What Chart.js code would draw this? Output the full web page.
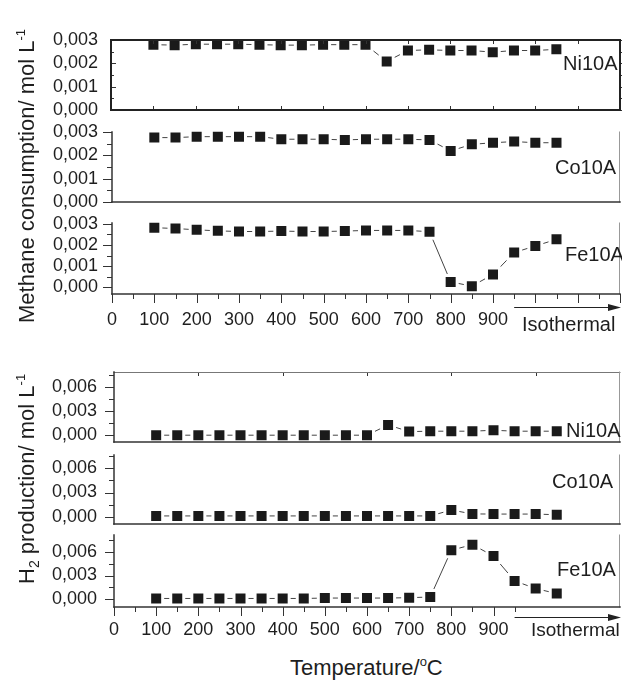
<!DOCTYPE html>
<html>
<head>
<meta charset="utf-8">
<script src="https://cdn.jsdelivr.net/npm/chart.js@4.4.0/dist/chart.umd.min.js"></script>
<style>
    html, body { margin: 0; padding: 0; background: #fff; }
    #page { position: relative; width: 622px; height: 681px; overflow: hidden;
            font-family: "Liberation Sans", Arial, sans-serif; color: #1e1e1e; }
    canvas { position: absolute; left: 0; }
    .lbl { position: absolute; z-index: 2; font-size: 20px; line-height: 20px; white-space: nowrap; }
    .ytitle { position: absolute; z-index: 2; font-size: 22px; line-height: 22px; white-space: nowrap;
              transform-origin: 0 0; transform: rotate(-90deg); }
    .xtitle { position: absolute; z-index: 2; font-size: 22px; line-height: 22px; white-space: nowrap; }
    .sup { position: relative; top: -9px; font-size: 13px; line-height: 0; }
    .sub { position: relative; top: 5px; font-size: 14px; line-height: 0; }
</style>
</head>
<body>
<div id="page">
    <div class="ytitle" style="left:16px; top:323px;">Methane consumption/ mol L<span class="sup">-1</span></div>
    <div class="ytitle" style="left:16px; top:584px;">H<span class="sub">2</span> production/ mol L<span class="sup">-1</span></div>
    <div class="xtitle" style="left:290px; top:657px;">Temperature/<span class="sup">o</span>C</div>
</div>

<script>
// Temperatures of the measured points (last ones are in the isothermal stage)
const temps = [100, 150, 200, 250, 300, 350, 400, 450, 500, 550, 600, 650, 700, 750, 800, 850, 900, 950, 1000, 1050];

// Methane consumption (mol/L)
const ch4Ni = [0.00280, 0.00278, 0.00282, 0.00282, 0.00282, 0.00280, 0.00278, 0.00278, 0.00280, 0.00280,
               0.00280, 0.00208, 0.00255, 0.00258, 0.00255, 0.00255, 0.00248, 0.00255, 0.00255, 0.00260];
const ch4Co = [0.00276, 0.00276, 0.00280, 0.00280, 0.00280, 0.00280, 0.00269, 0.00269, 0.00269, 0.00266,
               0.00269, 0.00269, 0.00269, 0.00266, 0.00219, 0.00247, 0.00254, 0.00259, 0.00254, 0.00254];
const ch4Fe = [0.00281, 0.00277, 0.00271, 0.00266, 0.00263, 0.00263, 0.00265, 0.00263, 0.00263, 0.00265,
               0.00268, 0.00268, 0.00268, 0.00262, 0.00026, 0.00006, 0.00061, 0.00164, 0.00195, 0.00226];

// H2 production (mol/L)
const h2Ni = [0, 0, 0, 0, 0, 0, 0, 0, 0, 0,
              0, 0.00128, 0.00045, 0.00050, 0.00050, 0.00050, 0.00062, 0.00050, 0.00050, 0.00050];
const h2Co = [0.0001, 0.0001, 0.0001, 0.0001, 0.0001, 0.0001, 0.0001, 0.0001, 0.0001, 0.0001,
              0.0001, 0.0001, 0.0001, 0.0001, 0.00083, 0.00035, 0.00033, 0.00033, 0.00033, 0.00025];
const h2Fe = [0.0001, 0.0001, 0.0001, 0.0001, 0.0001, 0.0001, 0.0001, 0.0001, 0.00015, 0.00015,
              0.00015, 0.00015, 0.00020, 0.00028, 0.00620, 0.00690, 0.00546, 0.00232, 0.00135, 0.00072];

// Tick labels
const xTickLabels = ['0', '100', '200', '300', '400', '500', '600', '700', '800', '900'];
const ch4TickLabels = ['0,000', '0,001', '0,002', '0,003'];
const h2TickLabels = ['0,000', '0,003', '0,006'];
const catalysts = ['Ni10A', 'Co10A', 'Fe10A'];

Chart.defaults.font.family = '"Liberation Sans", Arial, sans-serif';
Chart.defaults.color = '#1e1e1e';
Chart.defaults.animation = false;

const AXIS = '#333';
const LIGHT = '#999';
const PAGE_W = 622;
const PLOT_RIGHT = 620;
const EXTRA_W = 30;   // canvas is wider than the page so label padding never eats the plot

// Short tick marks (major + minor), placed with the chart's scales
const tickMarks = {
    id: 'tickMarks',
    afterDatasetsDraw(chart, args, opts) {
        const ctx = chart.ctx, a = chart.chartArea;
        ctx.save();
        ctx.strokeStyle = AXIS;
        ctx.lineWidth = 1;
        (opts.marks || []).forEach(m => {
            const scale = chart.scales[m.axis];
            const lo = m.from !== undefined ? m.from : scale.min;
            const hi = m.to !== undefined ? m.to : scale.max;
            const n0 = Math.ceil(lo / m.step - 1e-6), n1 = Math.floor(hi / m.step + 1e-6);
            for (let i = n0; i <= n1; i++) {
                const v = i * m.step;
                const r = v / m.major;
                const len = Math.abs(r - Math.round(r)) < 1e-6 ? m.majorLen : m.minorLen;
                if (!len) continue;
                const p = Math.round(scale.getPixelForValue(v)) + 0.5;
                ctx.beginPath();
                if (m.axis === 'y') {
                    const x0 = m.side === 'right' ? a.right : a.left;
                    ctx.moveTo(x0, p);
                    ctx.lineTo(x0 + m.dir * len, p);
                } else {
                    const y0 = m.side === 'top' ? a.top : a.bottom;
                    ctx.moveTo(p, y0);
                    ctx.lineTo(p, y0 + m.dir * len);
                }
                ctx.stroke();
            }
        });
        ctx.restore();
    }
};

// Axis / frame lines, drawn over the markers' white halo
const frame = {
    id: 'frame',
    afterDatasetsDraw(chart, args, opts) {
        const ctx = chart.ctx, a = chart.chartArea;
        ctx.save();
        (opts.lines || []).forEach(l => {
            ctx.strokeStyle = l.color;
            ctx.lineWidth = l.width;
            ctx.lineCap = 'square';
            ctx.beginPath();
            if (l.side === 'box') {
                ctx.rect(a.left, a.top, a.right - a.left, a.bottom - a.top);
            } else if (l.side === 'top') {
                ctx.moveTo(a.left, a.top + 0.5);
                ctx.lineTo(a.right, a.top + 0.5);
            } else if (l.side === 'right') {
                ctx.moveTo(a.right - 0.5, a.top);
                ctx.lineTo(a.right - 0.5, a.bottom);
            } else if (l.side === 'left') {
                ctx.moveTo(a.left, a.top);
                ctx.lineTo(a.left, a.bottom);
            } else if (l.side === 'bottom') {
                ctx.moveTo(a.left, a.bottom);
                ctx.lineTo(a.right, a.bottom);
            }
            ctx.stroke();
        });
        ctx.restore();
    }
};

// "Isothermal" arrow under the temperature axis
const isoArrow = {
    id: 'isoArrow',
    afterDraw(chart, args, opts) {
        if (opts.from === undefined) return;
        const ctx = chart.ctx;
        const x0 = chart.scales.x.getPixelForValue(opts.from);
        const x1 = PAGE_W - 1;
        const y = Math.round(chart.chartArea.bottom + opts.dy) + 0.5;
        ctx.save();
        ctx.strokeStyle = '#222';
        ctx.fillStyle = '#222';
        ctx.lineWidth = 1.2;
        ctx.beginPath();
        ctx.moveTo(x0, y);
        ctx.lineTo(x1 - 10, y);
        ctx.stroke();
        ctx.beginPath();
        ctx.moveTo(x1, y);
        ctx.lineTo(x1 - 13, y - 3.5);
        ctx.lineTo(x1 - 13, y + 3.5);
        ctx.closePath();
        ctx.fill();
        ctx.restore();
    }
};

Chart.register(tickMarks, frame, isoArrow);

const page = document.getElementById('page');

function addLabel(text, left, top, size) {
    const d = document.createElement('div');
    d.className = 'lbl';
    d.textContent = text;
    d.style.left = left + 'px';
    d.style.top = top + 'px';
    if (size) d.style.fontSize = size + 'px';
    page.appendChild(d);
}

function makePanel(p) {
    const padT = 30;
    const padB = p.xLabels ? 0 : 30;
    const xh = p.xLabels ? 45 : 0;
    const canvas = document.createElement('canvas');
    canvas.width = PAGE_W + EXTRA_W;
    canvas.height = padT + (p.bottom - p.top) + padB + xh;
    canvas.style.top = (p.top - padT) + 'px';
    page.appendChild(canvas);

    return new Chart(canvas, {
        type: 'line',
        data: {
            datasets: [{
                data: temps.map((t, i) => ({ x: t, y: p.values[i] })),
                borderColor: '#444',
                borderWidth: 1,
                pointStyle: 'rect',
                pointRadius: 9.2,
                pointBackgroundColor: '#1a1a1a',
                pointBorderColor: '#fff',
                pointBorderWidth: 3,
                clip: false
            }]
        },
        options: {
            responsive: false,
            events: [],
            layout: { padding: { top: padT, bottom: padB, left: 0, right: PAGE_W + EXTRA_W - PLOT_RIGHT } },
            plugins: {
                legend: { display: false },
                tooltip: { enabled: false },
                tickMarks: { marks: p.marks },
                frame: { lines: p.frame },
                isoArrow: p.arrow || {}
            },
            scales: {
                x: {
                    type: 'linear',
                    min: 0,
                    max: 1200,
                    afterFit: s => { s.height = xh; },
                    grid: { display: false, drawTicks: false },
                    border: { display: false },
                    ticks: {
                        display: !!p.xLabels,
                        stepSize: 100,
                        autoSkip: false,
                        maxRotation: 0,
                        padding: p.xPad || 0,
                        font: { size: 18 },
                        callback: v => {
                            const k = Math.round(v / 100);
                            return xTickLabels[k] !== undefined ? xTickLabels[k] : '';
                        }
                    }
                },
                y: {
                    min: p.yMin,
                    max: p.yMax,
                    afterFit: s => { s.width = p.left; },
                    grid: { display: false, drawTicks: false },
                    border: { display: false },
                    ticks: {
                        stepSize: p.yStep,
                        includeBounds: false,
                        autoSkip: false,
                        padding: p.yPad,
                        font: { size: 18 },
                        callback: v => {
                            const k = Math.round(v / p.yStep);
                            return p.yLabels[k] !== undefined ? p.yLabels[k] : '';
                        }
                    }
                }
            }
        }
    });
}

// tick-mark sets and frame line sets
const ch4Y = { axis: 'y', side: 'left', dir: -1, step: 0.0005, major: 0.001, majorLen: 9, minorLen: 5 };
const h2Y = { axis: 'y', side: 'left', dir: -1, step: 0.0015, major: 0.003, majorLen: 9, minorLen: 5 };
const axesLines = [
    { side: 'right', color: LIGHT, width: 1 },
    { side: 'left', color: AXIS, width: 1.5 },
    { side: 'bottom', color: AXIS, width: 1.5 }
];

// ---- Methane consumption ----
makePanel({
    values: ch4Ni, top: 40, bottom: 110, left: 111,
    yMin: 0, yMax: 0.003, yStep: 0.001, yLabels: ch4TickLabels, yPad: 13,
    frame: [{ side: 'box', color: '#222', width: 2 }],
    marks: [
        { axis: 'y', side: 'left', dir: 1, step: 0.0005, major: 0.001, majorLen: 5, minorLen: 3 },
        { axis: 'y', side: 'right', dir: 1, step: 0.0005, major: 0.001, majorLen: 5, minorLen: 3 },
        { axis: 'x', side: 'top', dir: 1, step: 100, major: 100, majorLen: 4, from: 100, to: 1100 },
        { axis: 'x', side: 'bottom', dir: -1, step: 100, major: 100, majorLen: 4, from: 100, to: 1100 }
    ]
});
makePanel({
    values: ch4Co, top: 132, bottom: 202, left: 112,
    yMin: 0, yMax: 0.003, yStep: 0.001, yLabels: ch4TickLabels, yPad: 14,
    frame: axesLines, marks: [ch4Y]
});
makePanel({
    values: ch4Fe, top: 223, bottom: 294, left: 112,
    yMin: -0.00031, yMax: 0.00303, yStep: 0.001, yLabels: ch4TickLabels, yPad: 14,
    xLabels: true, xPad: 15, arrow: { from: 950, dy: 13 },
    frame: axesLines,
    marks: [ch4Y, { axis: 'x', side: 'bottom', dir: 1, step: 50, major: 100, majorLen: 9, minorLen: 5, from: 0, to: 1200 }]
});

// ---- H2 production ----
makePanel({
    values: h2Ni, top: 372, bottom: 442, left: 114,
    yMin: -0.00085, yMax: 0.0079, yStep: 0.003, yLabels: h2TickLabels, yPad: 17,
    frame: [{ side: 'top', color: '#777', width: 1 }].concat(axesLines),
    marks: [h2Y, { axis: 'x', side: 'top', dir: 1, step: 200, major: 200, majorLen: 4, from: 200, to: 1000 }]
});
makePanel({
    values: h2Co, top: 455, bottom: 524, left: 114,
    yMin: -0.0009, yMax: 0.00765, yStep: 0.003, yLabels: h2TickLabels, yPad: 17,
    frame: axesLines, marks: [h2Y]
});
makePanel({
    values: h2Fe, top: 535, bottom: 607, left: 114,
    yMin: -0.00098, yMax: 0.00812, yStep: 0.003, yLabels: h2TickLabels, yPad: 17,
    xLabels: true, xPad: 12, arrow: { from: 950, dy: 10 },
    frame: axesLines,
    marks: [h2Y, { axis: 'x', side: 'bottom', dir: 1, step: 50, major: 100, majorLen: 9, minorLen: 5, from: 0, to: 950 }]
});

// panel names and the isothermal captions
addLabel(catalysts[0], 563, 53);
addLabel(catalysts[1], 555, 157);
addLabel(catalysts[2], 565, 244);
addLabel(catalysts[0], 566, 420);
addLabel(catalysts[1], 552, 471);
addLabel(catalysts[2], 557, 559);
addLabel('Isothermal', 522, 314);
addLabel('Isothermal', 531, 620, 19);
</script>
</body>
</html>
